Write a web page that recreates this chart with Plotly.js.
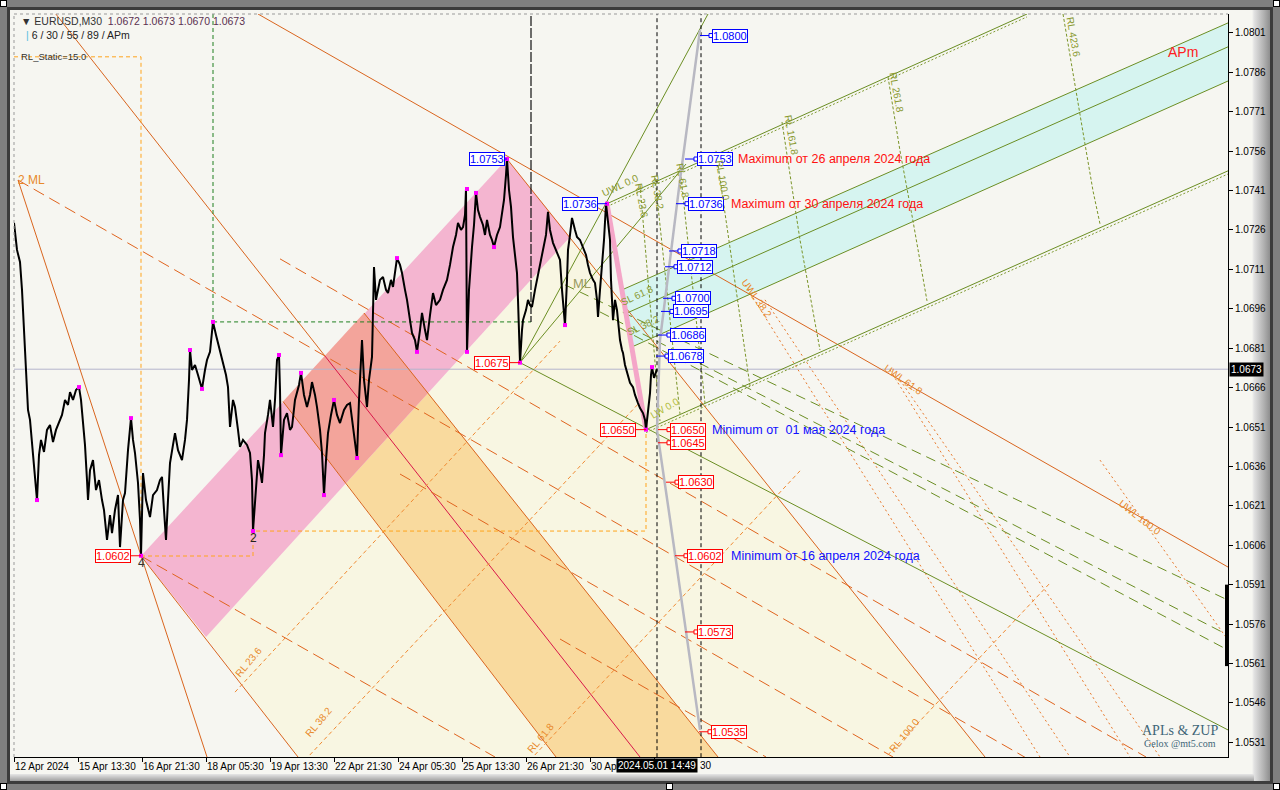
<!DOCTYPE html>
<html><head><meta charset="utf-8">
<script src="https://cdn.plot.ly/plotly-3.0.1.min.js"></script>
<style>
html,body{margin:0;padding:0;width:1280px;height:790px;overflow:hidden;background:#808080;}
#frame{position:absolute;left:7px;top:7px;width:1266px;height:777px;background:#3c3c3c;}
#inner{position:absolute;left:10px;top:10px;width:1260px;height:771px;background:linear-gradient(to right,#f6f6f1 0,#f6f6f1 1242px,#e2e2e2 1244px,#b0b0b0 1254px,#8e8e8e 1260px);}
#bottom{position:absolute;left:10px;top:774px;width:1244px;height:7px;background:linear-gradient(to bottom,#e6e6e6,#a0a0a0);}
.h{position:absolute;width:5px;height:5px;background:#fff;border:1px solid #000;}
#chart{position:absolute;left:0;top:0;width:1280px;height:790px;}
</style></head>
<body>
<div id="frame"></div><div id="inner"></div><div id="bottom"></div>
<div class="h" style="left:0;top:0"></div><div class="h" style="left:1273px;top:0"></div>
<div class="h" style="left:0;top:783px"></div><div class="h" style="left:666px;top:783px"></div><div class="h" style="left:1273px;top:783px"></div>
<div id="chart"></div>
<script>
// ---------- axis data ----------
const tickBars = [0,64,128,192,256,320,384,448,512,576,640];
const tickLabels = ['12 Apr 2024','15 Apr 13:30','16 Apr 21:30','18 Apr 05:30','19 Apr 13:30','22 Apr 21:30','24 Apr 05:30','25 Apr 13:30','26 Apr 21:30','30 Apr',''];
const tailLabel = '30';
const cursorTime = '2024.05.01 14:49';
const priceTicks = [1.0531,1.0546,1.0561,1.0576,1.0591,1.0606,1.0621,1.0636,1.0651,1.0666,1.0681,1.0696,1.0711,1.0726,1.0741,1.0756,1.0771,1.0786,1.0801];

// ---------- price series (bar index, close) ----------
const priceBars = [0,3,6,8,10,12,14,16,18,21,23,25,27,30,33,36,39,42,45,48,51,54,56,59,62,65,67,69,71,73,74,76,79,82,85,88,90,93,96,98,101,104,106,109,111,114,117,119,121,124,126,127,129,132,136,139,143,146,148,150,152,154,156,159,161,164,168,171,173,175,176,178,181,184,188,191,193,196,199,202,204,207,209,212,214,216,219,221,224,226,229,233,236,238,239,241,244,246,248,250,251,254,256,259,261,263,265,266,267,270,273,276,278,281,283,285,287,290,293,296,298,301,303,306,308,310,312,314,317,320,323,326,330,333,336,339,341,343,345,348,350,353,355,358,360,362,364,366,369,372,374,377,379,381,383,386,388,391,393,396,398,401,403,406,408,411,413,416,419,422,426,429,433,436,439,442,444,447,449,451,452,453,455,458,460,462,464,466,469,471,473,476,478,480,483,486,488,490,492,493,495,497,499,501,503,504,505,506,508,509,512,514,516,518,521,523,526,529,532,534,536,539,542,544,546,548,551,553,554,556,558,561,563,566,569,572,574,576,579,581,583,584,586,588,590,592,594,596,597,599,601,603,605,606,608,609,611,614,616,619,621,624,626,629,631,632,634,636,637,638,640,642,643];
const priceCloses = [1.07287,1.07184,1.07138,1.07032,1.06879,1.06719,1.06575,1.06537,1.06441,1.06308,1.06232,1.06403,1.06461,1.06415,1.06499,1.06518,1.06453,1.06499,1.06529,1.06556,1.06613,1.06594,1.06643,1.06613,1.06651,1.06662,1.06613,1.06537,1.06441,1.06308,1.06232,1.06346,1.06384,1.06270,1.06308,1.06232,1.06194,1.06080,1.06175,1.06106,1.06194,1.06251,1.06053,1.06232,1.06259,1.06422,1.06544,1.06461,1.06411,1.06297,1.06156,1.06020,1.06335,1.06232,1.06167,1.06251,1.06270,1.06308,1.06320,1.06194,1.06080,1.06232,1.06373,1.06442,1.06487,1.06422,1.06384,1.06461,1.06537,1.06689,1.06803,1.06727,1.06746,1.06708,1.06655,1.06727,1.06765,1.06796,1.06910,1.06860,1.06830,1.06784,1.06754,1.06708,1.06662,1.06510,1.06613,1.06586,1.06499,1.06434,1.06461,1.06442,1.06411,1.06308,1.06114,1.06232,1.06384,1.06346,1.06297,1.06403,1.06487,1.06556,1.06613,1.06510,1.06613,1.06765,1.06784,1.06651,1.06403,1.06537,1.06563,1.06499,1.06510,1.06613,1.06639,1.06670,1.06716,1.06632,1.06586,1.06632,1.06681,1.06632,1.06586,1.06499,1.06411,1.06251,1.06384,1.06487,1.06556,1.06613,1.06556,1.06525,1.06575,1.06594,1.06601,1.06518,1.06461,1.06392,1.06613,1.06841,1.06689,1.06586,1.06689,1.06777,1.07119,1.06994,1.07032,1.07070,1.07081,1.07032,1.07020,1.07070,1.07043,1.07108,1.07153,1.07127,1.07096,1.07032,1.06994,1.06917,1.06868,1.06841,1.06796,1.06879,1.06944,1.06879,1.06841,1.06936,1.07020,1.06974,1.06994,1.07032,1.07070,1.07127,1.07195,1.07241,1.07287,1.07260,1.07271,1.07317,1.07416,1.06796,1.07032,1.07195,1.07279,1.07401,1.07336,1.07310,1.07279,1.07241,1.07298,1.07241,1.07222,1.07195,1.07241,1.07271,1.07317,1.07374,1.07469,1.07530,1.07412,1.07348,1.07233,1.07165,1.07096,1.06994,1.06879,1.06755,1.06879,1.06917,1.06955,1.06994,1.06974,1.06967,1.07032,1.07070,1.07127,1.07172,1.07241,1.07329,1.07260,1.07211,1.07184,1.07165,1.07146,1.07032,1.06898,1.07070,1.07184,1.07241,1.07306,1.07260,1.07233,1.07222,1.07195,1.07165,1.07127,1.07096,1.07070,1.07058,1.06994,1.06929,1.07032,1.07119,1.07222,1.07360,1.07298,1.07222,1.07070,1.06917,1.06994,1.06955,1.06879,1.06841,1.06803,1.06792,1.06746,1.06700,1.06678,1.06662,1.06632,1.06601,1.06582,1.06563,1.06537,1.06500,1.06575,1.06639,1.06708,1.06738,1.06697,1.06719,1.06730];

// ---------- swing points ----------
const swingBars = [23,65,117,127,176,188,199,239,265,267,287,310,320,343,383,403,453,453,462,480,493,506,551,593,632,638];
const swingPrices = [1.06232,1.06662,1.06544,1.06020,1.06803,1.06655,1.06910,1.06114,1.06784,1.06403,1.06716,1.06251,1.06613,1.06392,1.07153,1.06796,1.07416,1.06796,1.07401,1.07195,1.07530,1.06755,1.06898,1.07360,1.06500,1.06738];

// ---------- level labels ----------
const blueLevels = [1.0800,1.0753,1.0736,1.0718,1.0712,1.0700,1.0695,1.0686,1.0678];
const redLevels = [1.0650,1.0645,1.0630,1.0602,1.0573,1.0535];
const lastPrice = 1.0673;

// ---------- drawn objects (bar, price) ----------
const zoneCream = [[192,1.057105],[556,1.072334],[971,1.05254],[284,1.05254]];
const zoneOrange = [[332,1.062968],[414,1.066394],[704,1.05254],[542,1.05254]];
const zonePink = [[127,1.060189],[493,1.0753],[556,1.072334],[192,1.057105]];
const zoneSalmon = [[269,1.066067],[350,1.06944],[414,1.066394],[332,1.062968]];
const zoneCyan = [[608,1.070316],[1214,1.080481],[1214,1.078273],[618,1.068146]];

const orangeSolid = [[41,1.08086,311,1.06780],[4,1.07450,193,1.05254],[244,1.08082,1214,1.05977],[127,1.06019,284,1.05254],[269,1.06607,542,1.05254],[350,1.06944,704,1.05254],[493,1.0753,971,1.05254]];
const crimsonSolid = [[311,1.06780,626,1.05254]];
const orangeLongDash = [[4,1.07450,1016,1.05242],[127,1.06019,481,1.05254],[266,1.07150,1132,1.05254],[386,1.06331,879,1.05254],[546,1.05703,752,1.05254]];
const orangeRL = [[221,1.05501,546,1.06837],[291,1.05242,626,1.06605],[516,1.05242,786,1.06343],[869,1.05242,1036,1.05916]];
const orangeDotted = [[731,1.07051,1026,1.05254],[751,1.06994,1056,1.05254],[876,1.06727,1116,1.05254],[886,1.06689,1146,1.05254],[1086,1.06384,1214,1.05699]];
const oliveSolid = [[506,1.06755,694,1.08082],[506,1.06755,672,1.07511],[506,1.06755,1214,1.05357],[593,1.0736,1013,1.08082],[608,1.07032,1214,1.08048],[613,1.06944,1214,1.07957],[618,1.06815,1214,1.07827],[632,1.0650,1214,1.07485]];
const oliveDotted = [[593,1.07349,1013,1.08071],[632,1.06489,1214,1.07473]];
const oliveLongDash = [[551,1.07051,1214,1.05851],[586,1.06948,1214,1.05718],[606,1.06887,1214,1.05661]];
const oliveArcs = [
 [[626,1.07431],[636,1.06994],[646,1.06533]],
 [[641,1.07458],[654,1.06994],[666,1.06560]],
 [[666,1.07500],[679,1.07032],[691,1.06601]],
 [[702,1.07561],[719,1.07108],[736,1.06666]],
 [[768,1.07671],[786,1.07222],[806,1.06803]],
 [[874,1.07843],[886,1.07561],[899,1.07294],[913,1.06990]],
 [[1049,1.08082],[1061,1.07804],[1071,1.07587],[1079,1.07409],[1086,1.07283]]
];
const greenPath = [[199,1.08082],[199,1.06910],[517,1.06910]];
const staticBox = [[0,1.07919],[127,1.07919],[127,1.06019]];
const zupPath = [[127,1.06019],[239,1.06019],[239,1.06114],[632,1.06114],[632,1.0650]];
const grayCurve = [[686,1.08021],[666,1.0745],[646,1.06841],[643,1.06499],[656,1.0616],[686,1.05357]];
const pinkLeg = [[593,1.0736],[632,1.0650]];
const timeLines = [643,687];

// ---------- helpers ----------
function segTrace(arr,color,width,dash){const x=[],y=[];arr.forEach(s=>{x.push(s[0],s[2],null);y.push(s[1],s[3],null);});
 return {type:'scatter',mode:'lines',x,y,line:{color,width,dash:dash||'solid'},hoverinfo:'skip'};}
function pathTrace(pts,color,width,dash){return {type:'scatter',mode:'lines',x:pts.map(p=>p[0]),y:pts.map(p=>p[1]),line:{color,width,dash:dash||'solid'},hoverinfo:'skip'};}
function poly(pts,color){return {type:'scatter',mode:'lines',x:pts.map(p=>p[0]),y:pts.map(p=>p[1]),fill:'toself',fillcolor:color,line:{width:0,color:color},hoverinfo:'skip'};}

const traces = [];
traces.push(poly(zoneCream,'#f8f6e2'));
traces.push(poly(zoneOrange,'#f9da9e'));
traces.push(poly(zonePink,'#f4b5d0'));
traces.push(poly(zoneSalmon,'#f3a49b'));
traces.push(poly(zoneCyan,'#d6f4f0'));
traces.push(segTrace([[0,lastPrice,1214,lastPrice]],'#b4b4cc',1));
traces.push(segTrace(orangeSolid,'#d9651e',1));
traces.push(segTrace(crimsonSolid,'#d8174a',1));
traces.push(segTrace(orangeLongDash,'#e0641e',1,'12px,6px'));
traces.push(segTrace(orangeRL,'#f08a32',1,'4px,3px'));
traces.push(segTrace(orangeDotted,'#e8782a',1,'2px,3px'));
traces.push(segTrace(oliveSolid,'#6b8e23',1));
traces.push(segTrace(oliveDotted,'#7f9a30',1,'2px,2px'));
traces.push(segTrace(oliveLongDash,'#6b8e23',1,'10px,6px'));
oliveArcs.forEach(a=>traces.push(pathTrace(a,'#7a9428',1,'3px,2px')));
traces.push(pathTrace(greenPath,'#1f7f1f',1,'4px,3px'));
traces.push(pathTrace(staticBox,'#ffa41c',1,'4px,3px'));
traces.push(pathTrace(zupPath,'#ffa41c',1,'4px,3px'));
traces.push(segTrace(timeLines.map(t=>[t,1.0520,t,1.0812]),'#000',1,'4px,3px'));
traces.push(segTrace([[517,1.0812,517,1.0691]],'#111',1.2,'10px,2px'));
traces.push(pathTrace(pinkLeg,'#f4a6c8',5));
traces.push(pathTrace(grayCurve,'#b8b8c2',2.5));
traces.push(segTrace([[1213,1.0591,1213,1.0560]],'#000',4));
// price
traces.push({type:'scatter',mode:'lines',x:priceBars,y:priceCloses,line:{color:'#000',width:2},hoverinfo:'skip'});
traces.push({type:'scatter',mode:'markers',x:swingBars,y:swingPrices,marker:{color:'#ff00ff',size:4,symbol:'square'},hoverinfo:'skip'});

// level label leaders
const blueBoxX = [698,683,674,667,663,661,659,656,654];
const redBoxX = [656,656,664,673,683,697];
function leaders(levels,boxX,color){const x=[],y=[],mx=[],my=[];levels.forEach((v,i)=>{x.push(boxX[i]-12,boxX[i],null);y.push(v,v,null);mx.push(boxX[i]-1);my.push(v);});
 traces.push({type:'scatter',mode:'lines',x,y,line:{color,width:1},hoverinfo:'skip'});
 traces.push({type:'scatter',mode:'markers',x:mx,y:my,marker:{color:'#fff',size:4,symbol:'square',line:{color,width:1}},hoverinfo:'skip'});}
leaders(blueLevels,blueBoxX,'#0000ff');
leaders(redLevels,redBoxX,'#ff0000');
traces.push(segTrace([[491,1.0753,493,1.0753],[584,1.0736,593,1.0736]],'#0000ff',1));
traces.push(segTrace([[496,1.06755,506,1.06755],[622,1.0650,632,1.0650],[117,1.0602,127,1.0602]],'#ff0000',1));

// ---------- annotations ----------
const F='Liberation Sans';
const ann=[];
function box(x,y,txt,color,anchor){ann.push({x,y,xref:'x',yref:'y',text:txt,showarrow:false,xanchor:anchor||'left',yanchor:'middle',font:{family:F,size:11,color},bgcolor:'#ffffff',bordercolor:color,borderwidth:1,borderpad:0});}
blueLevels.forEach((v,i)=>box(blueBoxX[i],v,v.toFixed(4),'#0000ff'));
redLevels.forEach((v,i)=>box(redBoxX[i],v,v.toFixed(4),'#ff0000'));
box(491,1.0753,'1.0753','#0000ff','right');
box(584,1.0736,'1.0736','#0000ff','right');
box(496,1.06755,'1.0675','#ff0000','right');
box(622,1.0650,'1.0650','#ff0000','right');
box(117,1.0602,'1.0602','#ff0000','right');
function txt(x,y,t,color,size,angle,anchor,fam){ann.push({x,y,xref:'x',yref:'y',text:t,showarrow:false,xanchor:anchor||'center',yanchor:'middle',textangle:angle||0,font:{family:fam||F,size:size||10,color}});}
txt(722,1.0753,'Maximum от 26 апреля 2024 года','#ff1010',12.5,0,'left');
txt(715,1.0736,'Maximum от 30 апреля 2024 года','#ff1010',12.5,0,'left');
txt(696,1.0650,'Minimum от  01 мая 2024 года','#1010ff',12.5,0,'left');
txt(715,1.0602,'Minimum от 16 апреля 2024 года','#1010ff',12.5,0,'left');
txt(1169,1.07938,'APm','#ff2020',14);
txt(2,1.0745,'2 ML','#e8892a',12,0,'left');
txt(239,1.06087,'2','#222',12);
txt(127,1.05992,'4','#333',12);
txt(568,1.07058,'ML','#9a9a60',13);
// orange rotated
txt(234,1.05615,'RL 23.6','#e8892a',10,-50);
txt(304,1.05387,'RL 38.2','#e8892a',10,-50);
txt(526,1.05326,'RL 61.8','#e8892a',10,-50);
txt(890,1.05337,'RL 100.0','#e8892a',10,-50);
txt(743,1.07001,'UWL 38.2','#e8892a',10,55);
txt(889,1.06689,'UWL 61.8','#e8892a',10,35);
txt(1126,1.06167,'UWL 100.0','#e8892a',10,38);
// olive rotated
txt(606,1.07428,'UWL 0.0','#8a9a30',10,-25);
txt(628,1.07374,'RL 23.6','#8a9a30',10,80);
txt(643,1.07405,'RL 38.2','#8a9a30',10,80);
txt(669,1.07450,'RL 61.8','#8a9a30',10,80);
txt(709,1.07450,'RL 100.0','#8a9a30',10,80);
txt(777,1.07622,'RL 161.8','#8a9a30',10,80);
txt(883,1.07785,'RL 261.8','#8a9a30',10,80);
txt(1059,1.07995,'RL 423.6','#8a9a30',10,80);
txt(623,1.07009,'SL 61.8','#8a9a30',10,-25);
txt(629,1.06898,'SL 38.2','#8a9a30',10,-25);
txt(650,1.06582,'LW 0.0','#b0bc40',10,-30);
// paper texts
function ptxt(x,y,t,color,size,fam,anchor){ann.push({x,y,xref:'paper',yref:'paper',text:t,showarrow:false,xanchor:anchor||'left',yanchor:'middle',font:{family:fam||F,size,color}});}
ptxt(0.004,0.9906,'▼ EURUSD,M30  <span style="color:#5a3050">1.0672 1.0673 1.0670 1.0673</span>','#333',10.5);
ptxt(0.008,0.9718,'<span style="color:#55c0e0">|</span> 6 / 30 / 55 / 89 / APm','#222',10.5);
ptxt(0.004,0.9422,'RL_Static=15.0','#333',9.5);
ptxt(0.9605,0.0363,'APLs &amp; ZUP','#3f6678',14,'Liberation Serif','center');
ptxt(0.9605,0.0175,'Gelox @mt5.com','#3f6678',10,'Liberation Serif','center');
ann.push({x:643,y:-0.012,xref:'x',yref:'paper',text:cursorTime,showarrow:false,xanchor:'center',yanchor:'middle',bgcolor:'#000',font:{family:F,size:10,color:'#fff'},borderpad:1});
ann.push({x:684,y:-0.012,xref:'x',yref:'paper',text:tailLabel,showarrow:false,xanchor:'left',yanchor:'middle',font:{family:F,size:10,color:'#000'}});
ann.push({x:1.0008,y:lastPrice,xref:'paper',yref:'y',text:lastPrice.toFixed(4),showarrow:false,xanchor:'left',yanchor:'middle',bgcolor:'#000',font:{family:F,size:10,color:'#fff'},borderpad:1});

const layout={
 width:1280,height:790,margin:{l:14,r:52,t:14,b:33,pad:0},
 paper_bgcolor:'rgba(0,0,0,0)',plot_bgcolor:'#f6f6f1',showlegend:false,
 xaxis:{range:[0,1214],tickvals:tickBars,ticktext:tickLabels,tickangle:0,ticks:'outside',ticklen:4,tickcolor:'#000',showline:true,linecolor:'#000',linewidth:1,showgrid:false,zeroline:false,ticklabelposition:'outside right',tickfont:{family:F,size:10,color:'#000'},fixedrange:true},
 yaxis:{range:[1.05254,1.08082],side:'right',tickvals:priceTicks,ticktext:priceTicks.map(v=>v.toFixed(4)),ticks:'outside',ticklen:4,tickcolor:'#000',showline:true,linecolor:'#000',linewidth:1,showgrid:false,zeroline:false,tickfont:{family:F,size:10,color:'#000'},fixedrange:true},
 shapes:[
  {type:'line',xref:'paper',yref:'paper',x0:0,x1:0,y0:0,y1:1,line:{color:'#999',width:1,dash:'dot'}},
  {type:'line',xref:'paper',yref:'paper',x0:0,x1:1,y0:1,y1:1,line:{color:'#999',width:1,dash:'dot'}}
 ],
 annotations:ann
};
Plotly.newPlot('chart',traces,layout,{staticPlot:true,displayModeBar:false});
</script>
</body></html>
